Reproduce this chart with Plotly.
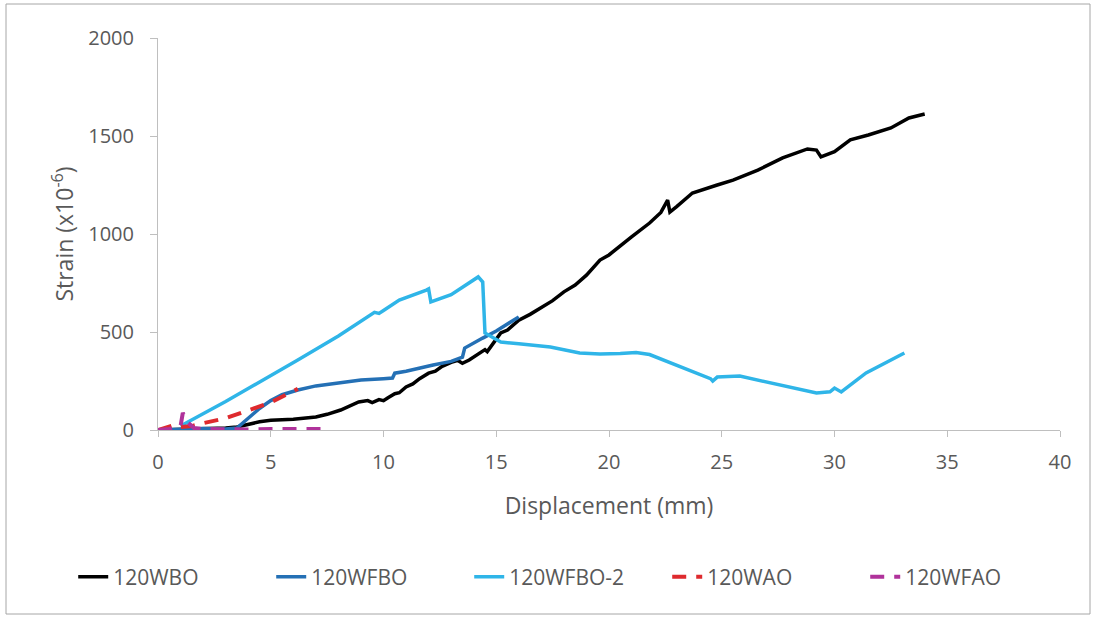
import plotly.graph_objects as go

# 120WBO
wbo_x = [0, 1, 2, 3, 3.5, 4, 4.5, 5, 6, 7, 7.5, 8.1, 8.9, 9.3, 9.5, 9.8, 10, 10.2, 10.5, 10.7, 11, 11.3, 11.6, 12,
         12.3, 12.6, 13, 13.3, 13.5, 13.8, 14.2, 14.5, 14.6, 15, 15.2, 15.5, 16, 16.5, 17, 17.5, 18, 18.5, 19, 19.6,
         20, 20.5, 21, 21.8, 22.3, 22.6, 22.7, 23, 23.7, 24.8, 25.5, 26.6, 27.7, 28.8, 29.2, 29.4, 30, 30.7, 31.5,
         32.5, 33.3, 34]
wbo_y = [0, 2, 5, 10, 15, 30, 42, 50, 55, 66, 80, 102, 143, 150, 140, 155, 150, 165, 185, 190, 220, 235, 262, 290,
         300, 325, 345, 355, 340, 357, 385, 410, 400, 460, 495, 510, 560, 590, 625, 660, 705, 740, 790, 867,
         893, 940, 985, 1056, 1110, 1173, 1112, 1140, 1209, 1250, 1275, 1326, 1388, 1434, 1428, 1393, 1420, 1480, 1505,
         1541, 1592, 1612]

# 120WFBO
wfbo_x = [0, 1, 2, 3, 3.5, 4, 4.5, 5, 5.5, 6.2, 7, 8, 9, 10, 10.4, 10.5, 11, 12.2, 13, 13.5, 13.6, 14.4, 15, 16]
wfbo_y = [0, 5, 8, 5, 10, 60, 110, 150, 180, 204, 225, 240, 255, 262, 265, 290, 300, 332, 350, 372, 418, 469, 505, 577]

# 120WFBO-2
wfbo2_x = [1.0, 3, 6.2, 8, 9.6, 9.8, 10, 10.7, 11.9, 12.0, 12.1, 13, 14.2, 14.4, 14.5, 15.2, 16, 17.4, 18.7, 19.6,
           20.5, 21.2, 21.8, 23.3, 24.5, 24.6, 24.8, 25.8, 27, 28.2, 29.2, 29.8, 30, 30.3, 31.4, 33.1]
wfbo2_y = [20, 145, 357, 480, 600, 595, 610, 663, 714, 720, 653, 690, 781, 755, 495, 449, 440, 423, 393, 388,
           390, 395, 385, 316, 262, 250, 270, 275, 245, 214, 189, 195, 214, 194, 291, 393]

# 120WAO
wao_x = [0, 0.5, 0.7, 1, 1.5, 2, 3, 4, 5, 5.5, 6, 6.2]
wao_y = [0, 20, 25, 15, 20, 35, 60, 100, 140, 170, 195, 210]

# 120WFAO
wfao_x = [0, 0.5, 1, 1.1, 1.3, 1.6, 2, 3, 4, 5, 6, 7, 7.5]
wfao_y = [0, 5, 20, 87, 40, 10, 5, 3, 3, 5, 5, 5, 5]

x_ticks = [0, 5, 10, 15, 20, 25, 30, 35, 40]
y_ticks = [0, 500, 1000, 1500, 2000]

fig = go.Figure()
fig.add_trace(go.Scatter(x=wbo_x, y=wbo_y, mode="lines", name="120WBO",
                         line=dict(color="#000000", width=3.5)))
fig.add_trace(go.Scatter(x=wfbo_x, y=wfbo_y, mode="lines", name="120WFBO",
                         line=dict(color="#2470B5", width=3.5)))
fig.add_trace(go.Scatter(x=wfbo2_x, y=wfbo2_y, mode="lines", name="120WFBO-2",
                         line=dict(color="#2FB5E8", width=3.5)))
fig.add_trace(go.Scatter(x=wao_x, y=wao_y, mode="lines", name="120WAO",
                         line=dict(color="#DE2A2E", width=4, dash="14px,10px")))
fig.add_trace(go.Scatter(x=wfao_x, y=wfao_y, mode="lines", name="120WFAO",
                         line=dict(color="#B0329B", width=4, dash="14px,10px")))

FONT = "Open Sans, DejaVu Sans, sans-serif"
axis_font = dict(family=FONT, size=20, color="#595959")
title_font = dict(family=FONT, size=23, color="#595959")

fig.update_layout(
    width=1094, height=618,
    margin=dict(l=158, r=34, t=38, b=188),
    paper_bgcolor="white", plot_bgcolor="white",
    showlegend=True,
    legend=dict(orientation="h", x=-0.094, xanchor="left", y=-0.375, yanchor="middle",
                font=dict(family=FONT, size=21, color="#595959"),
                entrywidth=153, entrywidthmode="pixels"),
    xaxis=dict(range=[0, 40], tickvals=x_ticks, showgrid=False, zeroline=False,
               showline=True, linecolor="#BFBFBF", linewidth=1,
               ticks="outside", ticklen=6, tickcolor="#BFBFBF",
               tickfont=axis_font, ticklabelstandoff=8,
               title=dict(text="Displacement (mm)", font=title_font, standoff=23)),
    yaxis=dict(range=[0, 2000], tickvals=y_ticks, showgrid=False, zeroline=False,
               showline=True, linecolor="#BFBFBF", linewidth=1,
               ticks="outside", ticklen=7, tickcolor="#BFBFBF",
               tickfont=axis_font, ticklabelstandoff=12,
               title=dict(text="Strain (x10<sup>-6</sup>)", font=title_font, standoff=8)),
)

fig.add_shape(type="rect", xref="paper", yref="paper",
              x0=(6 - 158) / 902, x1=(1090 - 158) / 902,
              y0=(430 - 614) / 392, y1=1 + (38 - 4) / 392,
              line=dict(color="#A6A6A6", width=1), fillcolor="rgba(0,0,0,0)", layer="below")

fig.write_html("out.html")
